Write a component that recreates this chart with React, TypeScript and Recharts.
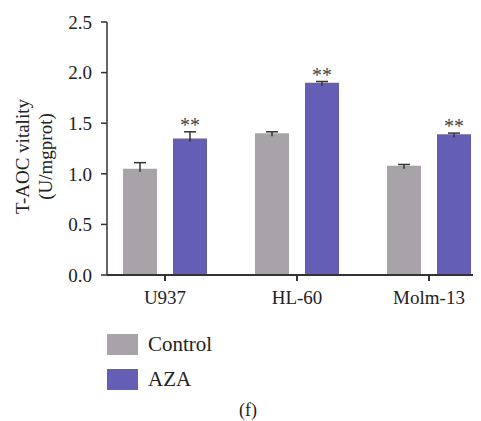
import { Bar, BarChart, LabelList, Legend, Rectangle, XAxis, YAxis } from 'recharts';

const CELL_LINES = ['U937', 'HL-60', 'Molm-13'];
const CONTROL = [1.05, 1.4, 1.08];
const CONTROL_ERR = [0.06, 0.015, 0.012];
const AZA = [1.35, 1.9, 1.39];
const AZA_ERR = [0.065, 0.012, 0.012];
const STARS = ['**', '**', '**'];
const Y_TICKS = [0, 0.5, 1, 1.5, 2, 2.5];

const SERIES = [
  { key: 'control', name: 'Control', color: '#a7a3a8', err: CONTROL_ERR, vals: CONTROL },
  { key: 'aza', name: 'AZA', color: '#645eb4', err: AZA_ERR, vals: AZA },
];

const data = CELL_LINES.map((name, i) => ({
  name,
  control: CONTROL[i],
  aza: AZA[i],
  stars: STARS[i],
}));

const FONT = '"Liberation Serif", "DejaVu Serif", serif';
const AXIS = '#333';

function YLabel({ viewBox }: any) {
  const cy = viewBox.y + viewBox.height / 2 + 8;
  return (
    <g fontFamily={FONT} fontSize={19} fill="#222">
      <text x={14} y={cy} transform={`rotate(-90 14 ${cy})`} textAnchor="middle" dominantBaseline="central">
        T-AOC vitality
      </text>
      <text x={37} y={cy} transform={`rotate(-90 37 ${cy})`} textAnchor="middle" dominantBaseline="central">
        (U/mgprot)
      </text>
    </g>
  );
}

// bar with an upward-only error whisker, scaled from the bar's own geometry
function barWithError(errs: number[], vals: number[]) {
  return (props: any) => {
    const { x, y, width, height, fill, index } = props;
    const perUnit = height / vals[index];
    const top = y - errs[index] * perUnit;
    const cx = x + width / 2;
    return (
      <g>
        <Rectangle x={x} y={y} width={width} height={height} fill={fill} />
        <line x1={cx} x2={cx} y1={y + 3} y2={top} stroke={AXIS} strokeWidth={1.5} />
        <line x1={cx - 6} x2={cx + 6} y1={top} y2={top} stroke={AXIS} strokeWidth={1.5} />
      </g>
    );
  };
}

function Stars(props: any) {
  const { x, y, width, height, value, index } = props;
  const perUnit = height / AZA[index];
  const top = y - AZA_ERR[index] * perUnit;
  return (
    <text x={x + width / 2} y={top} textAnchor="middle" fontFamily={FONT} fontSize={20} fill="#444">
      {value}
    </text>
  );
}

function LegendBox() {
  return (
    <div style={{ fontFamily: FONT, fontSize: 21, color: '#222' }}>
      {SERIES.map((s) => (
        <div key={s.key} style={{ display: 'flex', alignItems: 'center', height: 35 }}>
          <span style={{ display: 'inline-block', width: 31, height: 21, background: s.color, marginRight: 10 }} />
          <span>{s.name}</span>
        </div>
      ))}
    </div>
  );
}

export default function App() {
  return (
    <div style={{ position: 'relative', width: 473, height: 413 }}>
      <BarChart
        width={473}
        height={413}
        data={data}
        margin={{ top: 14, right: 0, bottom: 116, left: 0 }}
        barSize={34}
        barGap={16}
      >
        <XAxis
          dataKey="name"
          padding={{ left: -8, right: -14 }}
          tick={{ fontFamily: FONT, fontSize: 19, fill: '#222' }}
          tickSize={6}
          tickMargin={10}
          height={30}
          stroke={AXIS}
          strokeWidth={2}
        />
        <YAxis
          domain={[0, 2.5]}
          ticks={Y_TICKS}
          tickFormatter={(v: number) => v.toFixed(1)}
          tick={{ fontFamily: FONT, fontSize: 19, fill: '#222' }}
          tickSize={6}
          tickMargin={9}
          width={99}
          stroke={AXIS}
          strokeWidth={1.5}
          label={<YLabel />}
        />
        <Legend
          layout="vertical"
          align="center"
          verticalAlign="middle"
          content={<LegendBox />}
          wrapperStyle={{ left: 99, top: 319, width: 200 }}
        />
        {SERIES.map((s) => (
          <Bar
            key={s.key}
            dataKey={s.key}
            name={s.name}
            fill={s.color}
            shape={barWithError(s.err, s.vals)}
            isAnimationActive={false}
          >
            {s.key === 'aza' && <LabelList dataKey="stars" content={<Stars />} />}
          </Bar>
        ))}
      </BarChart>
      <div
        style={{
          position: 'absolute',
          left: 240,
          top: 392,
          width: 0,
          display: 'flex',
          justifyContent: 'center',
          fontFamily: FONT,
          fontSize: 18,
          color: '#222',
          whiteSpace: 'nowrap',
        }}
      >
        (f)
      </div>
    </div>
  );
}
